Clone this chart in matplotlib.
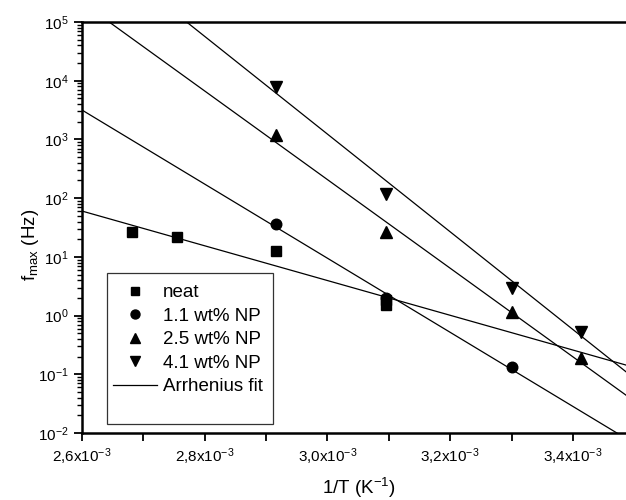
import numpy as np
import matplotlib
matplotlib.use('Agg')
import matplotlib.pyplot as plt
from matplotlib.ticker import LogLocator, MultipleLocator, FuncFormatter, NullFormatter, LogFormatterMathtext
from matplotlib.lines import Line2D
from matplotlib.patches import Rectangle

plt.rcParams['font.family'] = ['Liberation Sans', 'DejaVu Sans']
plt.rcParams['mathtext.fontset'] = 'custom'
plt.rcParams['mathtext.rm'] = 'Liberation Sans'
plt.rcParams['mathtext.it'] = 'Liberation Sans:italic'
plt.rcParams['mathtext.bf'] = 'Liberation Sans:bold'
plt.rcParams['axes.unicode_minus'] = False

# measurement temperatures (K) and relaxation peak frequencies (Hz)
temp_neat = [373, 363, 343, 323, 323]
fmax_neat = [26.5, 21.8, 12.6, 1.84, 1.51]
temp_np11 = [343, 323, 303]
fmax_np11 = [36.2, 2.0, 0.133]
temp_np25 = [343, 323, 303, 293]
fmax_np25 = [1190, 26.8, 1.15, 0.187]
temp_np41 = [343, 323, 303, 293]
fmax_np41 = [7810, 117.5, 2.94, 0.531]

# Arrhenius fits: activation energy (kJ/mol) and log10 of prefactor (Hz)
fit_ea = [56.65, 120.82, 144.47, 159.30]
fit_log_f0 = [9.474, 19.910, 24.955, 28.054]

labels = ['neat', '1.1 wt% NP', '2.5 wt% NP', '4.1 wt% NP']
markers = ['s', 'o', '^', 'v']
sizes = [7.2, 7.6, 9.0, 9.0]
R = 8.314e-3

x_min, x_max = 2.6e-3, 3.4864e-3

fig = plt.figure(figsize=(6.26, 5.0), dpi=100)
ax = fig.add_axes([82 / 626, 67 / 500, 544 / 626, 411 / 500])

series = [(temp_neat, fmax_neat), (temp_np11, fmax_np11),
          (temp_np25, fmax_np25), (temp_np41, fmax_np41)]

xs = np.linspace(x_min, x_max, 300)
for ea, lf0 in zip(fit_ea, fit_log_f0):
    ax.plot(xs, 10 ** (lf0 - ea / (R * np.log(10)) * xs), color='k', lw=0.9, zorder=2)

for (t, f), m, s in zip(series, markers, sizes):
    ax.plot(1 / np.array(t, dtype=float), f, ls='none', marker=m, ms=s,
            color='k', mec='k', zorder=3)

ax.set_yscale('log')
ax.set_xlim(x_min, x_max)
ax.set_ylim(1e-2, 1e5)

ax.spines['right'].set_visible(False)
for side in ['top', 'left', 'bottom']:
    ax.spines[side].set_linewidth(1.8)

ax.xaxis.set_major_locator(MultipleLocator(0.2e-3))
ax.xaxis.set_minor_locator(MultipleLocator(0.1e-3))
ax.xaxis.set_major_formatter(FuncFormatter(
    lambda v, p: f'{v * 1e3:.1f}'.replace('.', ',') + r'x10$^{-3}$'))
ax.yaxis.set_major_locator(LogLocator(base=10, numticks=20))
ax.yaxis.set_minor_locator(LogLocator(base=10, subs=np.arange(2, 10), numticks=20))
ax.yaxis.set_major_formatter(LogFormatterMathtext())
ax.yaxis.set_minor_formatter(NullFormatter())

ax.tick_params(which='major', direction='out', length=6, width=1.3, labelsize=11,
               top=False, right=False, color='k')
ax.tick_params(which='minor', direction='out', length=3.5, width=1.0,
               top=False, right=False)
ax.tick_params(axis='x', which='minor', length=5.5, width=1.3)

ax.set_xlabel(r'1/T (K$^{-1}$)', fontsize=13.5)
ax.set_ylabel(r'f$_{\mathrm{max}}$ (Hz)', fontsize=13.5)
ax.xaxis.set_label_coords(0.509, -0.105)
ax.yaxis.set_label_coords(-0.075, 0.457)

handles = [Line2D([], [], ls='none', marker=m, color='k', ms=s * 0.85)
           for m, s in zip(markers, sizes)]
handles.append(Line2D([], [], color='k', lw=0.9))
ax.legend(handles, labels + ['Arrhenius fit'], loc='upper left',
          bbox_to_anchor=(0.057, 0.362), frameon=False, fontsize=13.5,
          borderpad=0, borderaxespad=0, handlelength=2.35, handletextpad=0.32,
          labelspacing=0.34)
ax.add_patch(Rectangle((0.046, 0.0219), 0.305, 0.367, transform=ax.transAxes,
                       fill=False, lw=0.9, ec='#333333', zorder=4))

fig.savefig('out.png', dpi=100)
